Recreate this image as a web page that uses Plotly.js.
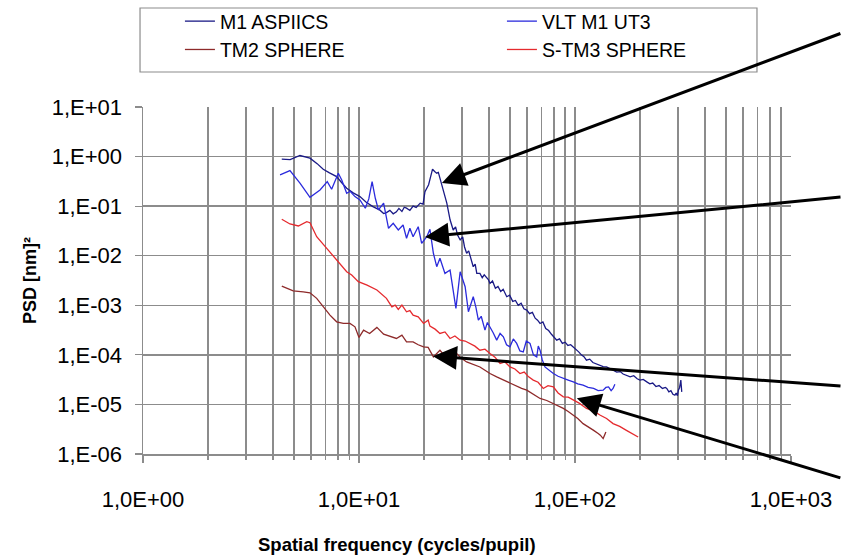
<!DOCTYPE html>
<html>
<head>
<meta charset="utf-8">
<script src="https://cdn.plot.ly/plotly-3.0.1.min.js"></script>
<style>html,body{margin:0;padding:0;background:#fff;}#chart{width:842px;height:557px;}</style>
</head>
<body>
<div id="chart"></div>
<script>
// ---- Data ----
const seriesNames = ["M1 ASPIICS", "VLT M1 UT3", "TM2 SPHERE", "S-TM3 SPHERE"];

const aspiicsX = [4.39,4.8,5.33,5.93,6.4,6.83,7.3,7.88,8.3,8.77,9.4,10.1,10.8,11.6,12.5,13.0,13.4,13.9,14.4,14.9,15.3,15.8,16.2,16.6,17.2,17.8,18.4,19.2,19.8,20.2,21.0,21.3,21.9,22.4,22.9,23.3,23.7,24.6,25.5,26.4,27.3,28.0,28.6,29.4,30.2,30.8,31.5,32.2,32.9,33.8,34.5,35.1,36.3,37.2,38.0,39.7,40.4,41.5,42.8,44.0,45.3,46.5,48.3,49.8,51.5,53.0,54.6,56.3,58.0,59.8,61.6,63.5,65.4,67.1,68.9,71.0,73.2,75.5,77.8,80.1,82.3,84.8,87.4,90.0,92.7,95.5,98.2,101,104,107,110,113,117,121,125,130,135,140,145,150,156,162,167,173,180,187,194,200,207,215,222,229,237,245,254,262,266,272,278,284,290,294,298,301,305,309,312];
const aspiicsY = [0.885,0.87,1.05,0.93,0.72,0.556,0.47,0.395,0.3,0.23,0.185,0.156,0.12,0.098,0.083,0.071,0.074,0.082,0.07,0.077,0.09,0.078,0.095,0.091,0.082,0.1,0.094,0.115,0.11,0.196,0.27,0.338,0.556,0.5,0.462,0.48,0.366,0.212,0.115,0.053,0.033,0.038,0.026,0.0208,0.024,0.015,0.0112,0.0125,0.0085,0.006,0.0068,0.0044,0.0044,0.0036,0.0041,0.0033,0.00277,0.0031,0.0022,0.0024,0.0019,0.0021,0.00149,0.0016,0.0012,0.00125,0.001,0.0011,0.00085,0.0008,0.00068,0.00072,0.00055,0.0005,0.00043,0.00046,0.00034,0.00031,0.00026,0.00023,0.000198,0.00021,0.00017,0.00018,0.000155,0.00016,0.000145,0.00013,0.000115,0.0001,0.000092,0.000078,0.000082,0.00007,0.000066,0.000062,0.000058,0.000057,0.000052,0.000049,0.000045,0.000046,0.000041,0.000039,0.000036,0.000038,0.000033,0.000031,0.000032,0.0000285,0.000026,0.000027,0.000023,0.000024,0.000021,0.000022,0.000021,0.000018,0.000019,0.000016,0.0000153,0.000017,0.000015,0.0000194,0.000022,0.000031,0.0000179];

const vltX = [4.31,4.79,5.33,5.93,6.6,7.13,7.47,8.02,8.32,8.77,9.1,9.58,10.1,10.7,11.1,11.5,11.9,12.3,13.0,13.7,14.4,15.2,16.0,16.6,17.2,17.8,18.8,19.5,20.6,21.3,22.1,22.9,23.7,25.0,26.4,28.1,29.4,31.0,32.1,33.8,34.8,35.7,36.8,38.3,39.3,40.4,41.8,43.4,45.0,46.6,48.2,50.0,51.8,53.7,55.6,57.6,59.5,61.9,64.2,66.5,67.6,68.9,70.5,72.6,76.0,79.4,83.5,88.3,93.0,98.2,103,109,115,122,128,135,139,143,147,150,153];
const vltY = [0.427,0.521,0.29,0.151,0.212,0.313,0.219,0.462,0.338,0.182,0.2,0.156,0.133,0.0907,0.14,0.313,0.144,0.0838,0.115,0.0358,0.0451,0.033,0.0417,0.0225,0.0358,0.0242,0.0385,0.0178,0.0242,0.0341,0.0112,0.006,0.00886,0.0044,0.00514,0.000865,0.00475,0.00237,0.00074,0.00149,0.0009,0.000502,0.0006,0.000316,0.00045,0.000368,0.00028,0.000198,0.00027,0.000231,0.00016,0.000145,0.00021,0.00017,0.00012,0.000115,0.00019,0.00017,0.0001,0.000091,0.00015,0.000124,0.00008,0.000057,0.000048,0.000042,0.000037,0.0000333,0.000031,0.0000285,0.000026,0.0000244,0.000022,0.000021,0.000019,0.0000194,0.000022,0.0000226,0.000019,0.000021,0.0000256];

const tm2X = [4.39,4.96,5.52,5.93,6.37,6.83,7.34,7.88,8.46,9.08,9.58,10.0,10.5,11.2,12.1,13.0,13.9,14.9,15.8,16.6,17.8,18.8,19.9,20.9,22.1,23.7,25.5,27.0,28.3,29.8,31.5,33.8,36.3,38.3,40.4,43.4,46.6,50.0,53.7,56.6,59.8,64.0,68.9,74.0,79.4,83.5,88.3,93.0,98.2,103,109,115,122,128,131,135,139];
const tm2Y = [0.00244,0.00196,0.00187,0.00179,0.00138,0.000933,0.000634,0.000464,0.00043,0.00043,0.000368,0.000225,0.000316,0.00027,0.000358,0.000262,0.000239,0.000214,0.00025,0.000183,0.000183,0.00016,0.000145,0.000141,0.000091,0.000124,0.000085,0.0001,0.000107,0.000085,0.000072,0.000065,0.000057,0.000049,0.000042,0.000036,0.000031,0.000027,0.0000226,0.000021,0.0000194,0.000016,0.0000132,0.000012,0.0000104,0.0000092,0.0000083,0.0000072,0.00000605,0.0000052,0.0000041,0.0000036,0.000003,0.0000026,0.0000024,0.00000205,0.00000278];

const stm3X = [4.39,4.79,5.24,5.73,5.93,6.37,7.09,7.88,8.77,9.25,9.93,10.9,12.1,13.4,14.2,14.7,15.2,15.8,16.6,17.2,17.8,18.8,19.9,20.9,21.3,22.5,23.7,25.0,26.4,27.8,29.4,31.0,32.6,34.4,36.3,38.3,40.4,42.6,45.0,47.4,50.0,52.7,55.6,58.2,61.0,64.1,67.5,71.3,75.0,79.4,83.5,88.3,93.0,98.2,105,113,121,131,140,150,161,173,184,196];
const stm3Y = [0.0544,0.0437,0.0398,0.0486,0.0464,0.0242,0.0141,0.00819,0.00475,0.00407,0.00299,0.00256,0.00203,0.00138,0.000933,0.00101,0.000826,0.00101,0.00074,0.00078,0.000634,0.000586,0.00043,0.000502,0.00038,0.00033,0.00027,0.00029,0.000214,0.00024,0.000198,0.00019,0.00017,0.00015,0.000124,0.00013,0.000107,0.00009,0.000067,0.000072,0.000057,0.000052,0.000042,0.000045,0.000036,0.000031,0.000028,0.000021,0.000024,0.0000226,0.000017,0.0000142,0.000014,0.0000122,0.0000105,0.0000083,0.0000075,0.00000605,0.0000052,0.0000041,0.0000036,0.000003,0.0000026,0.0000022];

const xTickVals = [1, 10, 100, 1000];
const xTickText = ["1,0E+00", "1,0E+01", "1,0E+02", "1,0E+03"];
const yTickVals = [1e-6, 1e-5, 1e-4, 1e-3, 1e-2, 1e-1, 1, 10];
const yTickText = ["1,E-06", "1,E-05", "1,E-04", "1,E-03", "1,E-02", "1,E-01", "1,E+00", "1,E+01"];

// arrow targets [x, y] in data units
const arrowTargets = [[24.2, 0.294], [20.2, 0.0239], [22.0, 0.0000942], [102, 0.0000133]];

// ---- Chart ----
const colors = ["#1a1a86", "#2b2bdc", "#8e2a2a", "#e52a2e"];
const xs = [aspiicsX, vltX, tm2X, stm3X];
const ys = [aspiicsY, vltY, tm2Y, stm3Y];
const traces = seriesNames.map((n, i) => ({
  type: "scatter", mode: "lines", name: n, x: xs[i], y: ys[i],
  line: {color: colors[i], width: 1.3}
}));

const tails = [[400, -150], [420, -40], [412, 30], [265, 80]];
const annotations = arrowTargets.map((t, i) => ({
  x: Math.log10(t[0]), y: Math.log10(t[1]), xref: "x", yref: "y",
  showarrow: true, arrowhead: 2, arrowsize: 1.6, arrowwidth: 3, arrowcolor: "#000",
  ax: tails[i][0], ay: tails[i][1], text: ""
}));
annotations.push({
  xref: "paper", yref: "paper", x: 0.392, y: -0.262, xanchor: "center", yanchor: "middle",
  showarrow: false, text: "<b>Spatial frequency (cycles/pupil)</b>",
  font: {family: "Liberation Sans, Arial, sans-serif", size: 18.5, color: "#000"}
});

const axisCommon = {
  type: "log", showline: true, linecolor: "#8c8c8c", linewidth: 1.5,
  ticks: "outside", tickcolor: "#8c8c8c", ticklen: 7, tickwidth: 1.2,
  showgrid: true, gridcolor: "#8c8c8c", gridwidth: 1.5, zeroline: false,
  tickfont: {family: "Liberation Sans, Arial, sans-serif", size: 22, color: "#000"},
  tickmode: "array"
};

const layout = {
  width: 842, height: 557,
  margin: {l: 143, r: 51, t: 107, b: 103, autoexpand: false},
  paper_bgcolor: "#fff", plot_bgcolor: "#fff",
  showlegend: true,
  legend: {
    orientation: "h", x: 0.057, xanchor: "left",
    yref: "container", y: 0.9965, yanchor: "top",
    entrywidth: 277, entrywidthmode: "pixels", itemwidth: 30,
    font: {family: "Liberation Sans, Arial, sans-serif", size: 19.5, color: "#000"},
    bgcolor: "rgba(0,0,0,0)", borderwidth: 0, traceorder: "normal"
  },
  xaxis: Object.assign({}, axisCommon, {
    range: [0, 3], tickvals: xTickVals, ticktext: xTickText, ticklabelstandoff: 18,
    minor: {dtick: "D1", showgrid: true, gridcolor: "#8c8c8c", gridwidth: 1.5, ticks: "outside", ticklen: 4, tickcolor: "#8c8c8c"}
  }),
  yaxis: Object.assign({}, axisCommon, {
    range: [-6, 1], tickvals: yTickVals, ticktext: yTickText, ticklabelstandoff: 8,
    title: {text: "<b>PSD [nm]²</b>", font: {family: "Liberation Sans, Arial, sans-serif", size: 18, color: "#000"}, standoff: 10}
  }),
  shapes: [{
    type: "rect", xref: "paper", yref: "paper",
    x0: -0.0046, x1: 0.9475, y0: 1.1009, y1: 1.2853,
    line: {color: "#8c8c8c", width: 1.2}, fillcolor: "rgba(0,0,0,0)"
  }],
  annotations: annotations
};

Plotly.newPlot("chart", traces, layout, {displayModeBar: false, staticPlot: true});
</script>
</body>
</html>
